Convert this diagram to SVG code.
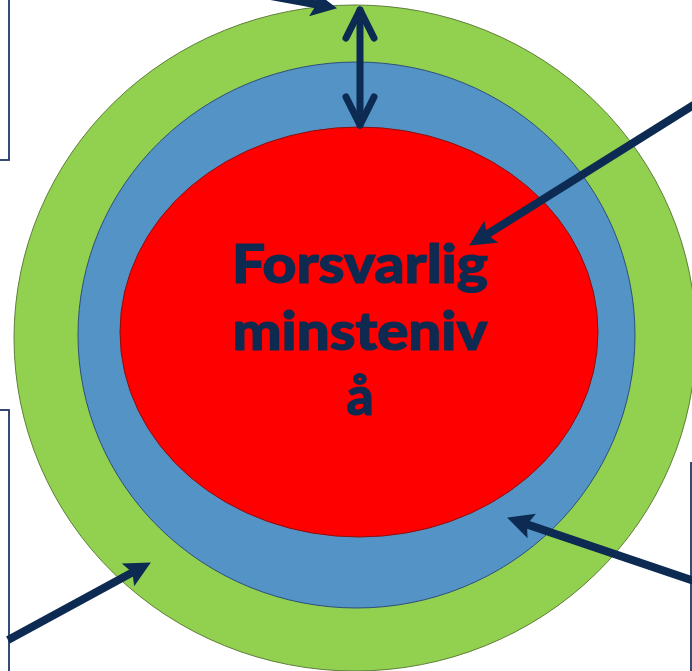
<svg xmlns="http://www.w3.org/2000/svg" width="692" height="671" viewBox="0 0 692 671">
<style>
.box{fill:none;stroke:#1F3864;stroke-width:1.8}
.arr{stroke:#0C2A52;stroke-width:8;fill:none}
.lbl{font-family:"Lato","Noto Sans",sans-serif;font-weight:900;font-size:53px;fill:#0E2A50;stroke:#0E2A50;stroke-width:1.2;text-anchor:middle}
</style>
<defs>
<marker id="head" markerUnits="userSpaceOnUse" markerWidth="40" markerHeight="40" viewBox="-20 -20 40 40" refX="0" refY="0" orient="auto">
<path d="M17,0 L-9,-13 L-4,0 L-9,13 Z" fill="#0C2A52"/>
</marker>
</defs>
<rect width="692" height="671" fill="#ffffff"/>
<g id="box-top-left"><rect class="box" x="-20" y="-20" width="29" height="180"/></g>
<g id="box-bottom-left"><rect class="box" x="-20" y="410" width="29" height="300"/></g>
<g id="box-bottom-right"><rect class="box" x="691" y="463" width="40" height="260"/></g>
<g id="ring-outer"><ellipse cx="355" cy="338" rx="341" ry="333" fill="#92D050" stroke="#5F7F3A" stroke-width="1"/></g>
<g id="ring-middle"><ellipse cx="356.5" cy="335" rx="278.5" ry="273" fill="#5393C5" stroke="#2F4F78" stroke-width="1"/></g>
<g id="core"><ellipse cx="359" cy="332" rx="239" ry="205" fill="#FF0000" stroke="#8A1010" stroke-width="1"/>
<text class="lbl" x="360" y="283" textLength="256" lengthAdjust="spacingAndGlyphs">Forsvarlig</text>
<text class="lbl" x="360" y="350" textLength="255" lengthAdjust="spacingAndGlyphs">minsteniv</text>
<text class="lbl" x="360" y="415">å</text>
</g>
<g id="connectors">
<line class="arr" x1="200" y1="-17" x2="320.3" y2="5.1" marker-end="url(#head)"/>
<line class="arr" x1="700" y1="101" x2="483.6" y2="236.5" marker-end="url(#head)"/>
<line class="arr" x1="700" y1="583" x2="523.2" y2="523.1" marker-end="url(#head)"/>
<line class="arr" x1="8" y1="640" x2="135.9" y2="570.6" marker-end="url(#head)"/>
<g stroke="#0C2A52" stroke-width="7" stroke-linecap="round" stroke-linejoin="round" fill="none">
<line x1="360" y1="10" x2="360" y2="125"/>
<polyline points="346,38 360,10 374,38"/>
<polyline points="346,97 360,125 374,97"/>
</g>
</g>
</svg>
